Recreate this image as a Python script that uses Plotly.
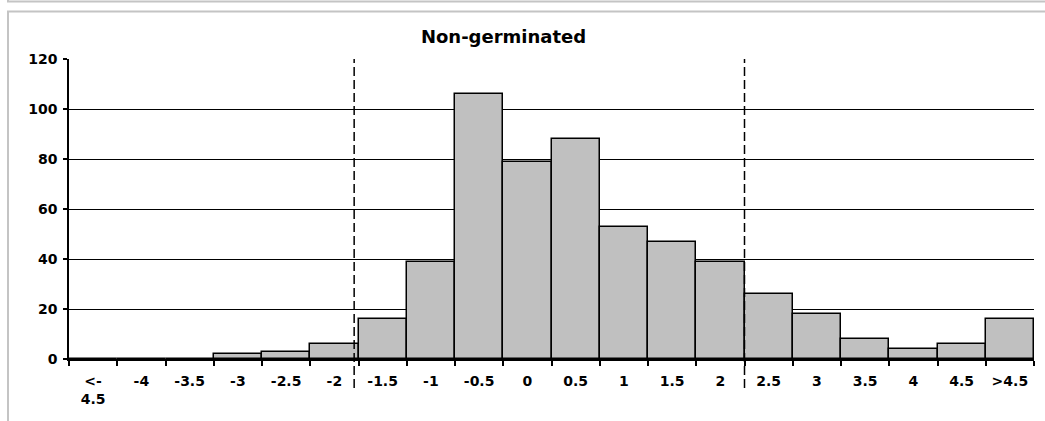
import plotly.graph_objects as go

# ---- data ----
bin_labels = ["<-4.5", "-4", "-3.5", "-3", "-2.5", "-2", "-1.5", "-1", "-0.5", "0",
              "0.5", "1", "1.5", "2", "2.5", "3", "3.5", "4", "4.5", ">4.5"]
tick_labels = ["&lt;-<br>4.5", "-4", "-3.5", "-3", "-2.5", "-2", "-1.5", "-1", "-0.5", "0",
               "0.5", "1", "1.5", "2", "2.5", "3", "3.5", "4", "4.5", "&gt;4.5"]
counts = [0, 0, 0, 2, 3, 6, 16, 39, 106, 79, 88, 53, 47, 39, 26, 18, 8, 4, 6, 16]
cutoff_positions = [5.41, 13.5]   # dashed reference lines (category-index coordinates)
title_text = "Non-germinated"
y_ticks = [0, 20, 40, 60, 80, 100, 120]

W, H = 1045, 421
L, R, T, B = 69, 11, 59, 62
plot_w = W - L - R
plot_h = H - T - B

def px_x(p):
    return (p - L) / plot_w

def px_y(p):
    return (H - B - p) / plot_h

FONT = "DejaVu Sans"

fig = go.Figure()
fig.add_trace(go.Bar(
    x=bin_labels, y=counts, width=1.0,
    marker=dict(color="#C0C0C0", line=dict(color="black", width=1.5)),
    showlegend=False,
))

shapes = []
for c in cutoff_positions:
    shapes.append(dict(type="line", xref="x", yref="paper", x0=c, x1=c,
                       y0=px_y(388), y1=1.0,
                       line=dict(color="black", width=1.5, dash="9px,4px")))
# outer panel frames
shapes.append(dict(type="rect", xref="paper", yref="paper",
                   x0=px_x(8), x1=px_x(1070), y0=px_y(440), y1=px_y(11.5),
                   line=dict(color="#c4c4c4", width=2), fillcolor="rgba(0,0,0,0)"))
shapes.append(dict(type="rect", xref="paper", yref="paper",
                   x0=px_x(8), x1=px_x(1070), y0=px_y(1.5), y1=px_y(-30),
                   line=dict(color="#c4c4c4", width=2), fillcolor="rgba(0,0,0,0)"))

fig.update_layout(
    width=W, height=H,
    margin=dict(l=L, r=R, t=T, b=B, autoexpand=False),
    paper_bgcolor="white", plot_bgcolor="white",
    bargap=0,
    title=dict(text=title_text, x=px_x(534), xanchor="center",
               y=1 - 37 / H, yanchor="middle", yref="container",
               font=dict(family=FONT, size=18, color="black", weight="bold")),
    xaxis=dict(type="category", range=[-0.5, 19.5],
               tickmode="array", tickvals=bin_labels, ticktext=tick_labels,
               tickson="boundaries", ticks="outside", ticklen=5, tickwidth=1.5,
               tickcolor="black", showline=True, linecolor="black", linewidth=2,
               showgrid=False, zeroline=False, ticklabelstandoff=8,
               tickfont=dict(family=FONT, size=14, color="black", weight="bold")),
    yaxis=dict(range=[0, 120], tickmode="array", tickvals=y_ticks,
               ticks="outside", ticklen=4, tickwidth=1.5, tickcolor="black",
               showline=True, linecolor="black", linewidth=1.5,
               showgrid=True, gridcolor="black", gridwidth=1.3, zeroline=False,
               ticklabelstandoff=3,
               tickfont=dict(family=FONT, size=14, color="black", weight="bold")),
    shapes=shapes,
)

fig.write_html("out.html", config={"displayModeBar": False},
               post_script="document.body.style.margin='0';")
